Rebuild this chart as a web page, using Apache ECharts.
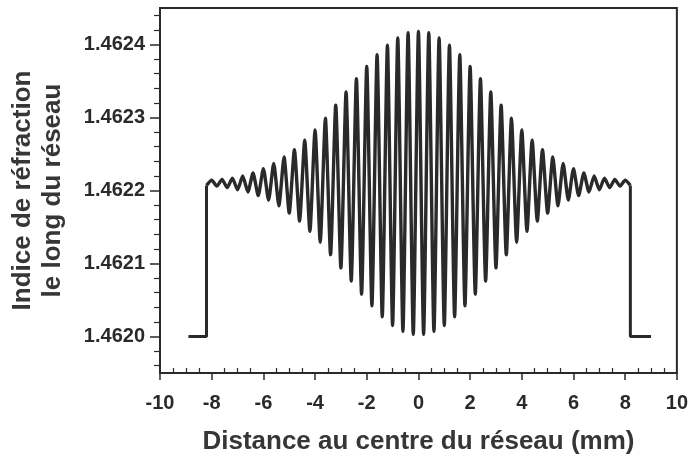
<!DOCTYPE html>
<html>
<head>
<meta charset="utf-8">
<script src="https://cdn.jsdelivr.net/npm/echarts@6/dist/echarts.min.js"></script>
<style>
  html, body { margin: 0; padding: 0; background: #fff; }
  #chart { width: 691px; height: 460px; }
</style>
</head>
<body>
<div id="chart"></div>
<script>
// Refractive index profile along an apodised fibre Bragg grating.

// Flat (unexposed) fibre core on each side of the grating
const leftEdgeX = [-8.9, -8.2, -8.2];
const leftEdgeN = [1.4620, 1.4620, 1.462207];
const rightEdgeX = [8.2, 8.2, 9.0];
const rightEdgeN = [1.462207, 1.4620, 1.4620];

// Grating fringes: alternating minima and maxima of the index (mm, index)
const fringeX = [
  -8.2, -8.0, -7.8, -7.6, -7.4, -7.2, -7.0, -6.8, -6.6, -6.4,
  -6.2, -6.0, -5.8, -5.6, -5.4, -5.2, -5.0, -4.8, -4.6, -4.4,
  -4.2, -4.0, -3.8, -3.6, -3.4, -3.2, -3.0, -2.8, -2.6, -2.4,
  -2.2, -2.0, -1.8, -1.6, -1.4, -1.2, -1.0, -0.8, -0.6, -0.4,
  -0.2, 0.0, 0.2, 0.4, 0.6, 0.8, 1.0, 1.2, 1.4, 1.6,
  1.8, 2.0, 2.2, 2.4, 2.6, 2.8, 3.0, 3.2, 3.4, 3.6,
  3.8, 4.0, 4.2, 4.4, 4.6, 4.8, 5.0, 5.2, 5.4, 5.6,
  5.8, 6.0, 6.2, 6.4, 6.6, 6.8, 7.0, 7.2, 7.4, 7.6,
  7.8, 8.0, 8.2
];
const fringeN = [
  1.462207, 1.462214, 1.462206, 1.462215, 1.462204, 1.462217, 1.462201, 1.462220, 1.462198, 1.462224,
  1.462193, 1.462230, 1.462187, 1.462237, 1.462179, 1.462246, 1.462169, 1.462256, 1.462158, 1.462269,
  1.462144, 1.462283, 1.462129, 1.462299, 1.462112, 1.462317, 1.462094, 1.462335, 1.462076, 1.462353,
  1.462058, 1.462370, 1.462042, 1.462386, 1.462027, 1.462399, 1.462015, 1.462409, 1.462007, 1.462416,
  1.462003, 1.462418, 1.462003, 1.462416, 1.462007, 1.462409, 1.462015, 1.462399, 1.462027, 1.462386,
  1.462042, 1.462370, 1.462058, 1.462353, 1.462076, 1.462335, 1.462094, 1.462317, 1.462112, 1.462299,
  1.462129, 1.462283, 1.462144, 1.462269, 1.462158, 1.462256, 1.462169, 1.462246, 1.462179, 1.462237,
  1.462187, 1.462230, 1.462193, 1.462224, 1.462198, 1.462220, 1.462201, 1.462217, 1.462204, 1.462215,
  1.462206, 1.462214, 1.462207
];

// Axis ticks
const yLabelValues = [1.4620, 1.4621, 1.4622, 1.4623, 1.4624];
const yMinorValues = [
  1.46196, 1.46198, 1.46202, 1.46204, 1.46206, 1.46208,
  1.46212, 1.46214, 1.46216, 1.46218, 1.46222, 1.46224, 1.46226, 1.46228,
  1.46232, 1.46234, 1.46236, 1.46238, 1.46242, 1.46244
];
const yMin = 1.46195, yMax = 1.46245;

const zip = (xs, ys) => xs.map((x, i) => [x, ys[i]]);

const ink = '#2a2a2a';
const labelFont = { fontFamily: 'Liberation Sans, Arial, sans-serif', fontWeight: 'bold', fontSize: 20, color: ink };
const titleFont = { fontFamily: 'Liberation Sans, Arial, sans-serif', fontWeight: 'bold', fontSize: 26, color: '#363636' };

const chart = echarts.init(document.getElementById('chart'), null, { renderer: 'canvas' });
chart.setOption({
  animation: false,
  backgroundColor: '#ffffff',
  grid: { left: 158, right: 12, top: 8, bottom: 87, show: true, borderColor: ink, borderWidth: 2, containLabel: false },
  xAxis: [{
    // major ticks point down, with the labels
    type: 'value', min: -10, max: 10, interval: 2, position: 'bottom',
    name: 'Distance au centre du réseau (mm)',
    nameLocation: 'middle', nameGap: 56,
    nameTextStyle: titleFont,
    axisLine: { show: true, onZero: false, lineStyle: { color: ink, width: 2 } },
    axisTick: { show: true, inside: false, length: 7, lineStyle: { color: ink, width: 1.5 } },
    axisLabel: Object.assign({ margin: 20, formatter: v => String(v) }, labelFont),
    splitLine: { show: false }
  }, {
    // minor ticks every 0.5 mm, pointing into the plot
    type: 'value', min: -10, max: 10, interval: 2, position: 'bottom',
    axisLine: { show: false, onZero: false },
    axisTick: { show: false, inside: true },
    minorTick: { show: true, splitNumber: 4, length: 5, lineStyle: { color: ink, width: 1.2 } },
    axisLabel: { show: false },
    splitLine: { show: false }
  }],
  yAxis: [{
    type: 'value', min: yMin, max: yMax,
    name: 'Indice de réfraction\nle long du réseau',
    nameLocation: 'middle', nameGap: 92, nameRotate: 90,
    nameTextStyle: Object.assign({ lineHeight: 30 }, titleFont),
    axisLine: { show: true, onZero: false, lineStyle: { color: ink, width: 2 } },
    axisTick: { show: true, inside: false, length: 10, customValues: yLabelValues, lineStyle: { color: ink, width: 1.5 } },
    axisLabel: Object.assign({ margin: 15, customValues: yLabelValues, formatter: v => v.toFixed(4) }, labelFont),
    splitLine: { show: false }
  }, {
    type: 'value', min: yMin, max: yMax, position: 'left',
    axisLine: { show: false, onZero: false },
    axisTick: { show: true, inside: false, length: 6, customValues: yMinorValues, lineStyle: { color: ink, width: 1.2 } },
    axisLabel: { show: false },
    splitLine: { show: false }
  }],
  series: [
    { type: 'line', yAxisIndex: 0, data: zip(leftEdgeX, leftEdgeN), showSymbol: false, lineStyle: { color: ink, width: 3 } },
    { type: 'line', yAxisIndex: 0, data: zip(fringeX, fringeN), showSymbol: false, smooth: 0.2, lineStyle: { color: ink, width: 3.4 } },
    { type: 'line', yAxisIndex: 0, data: zip(rightEdgeX, rightEdgeN), showSymbol: false, lineStyle: { color: ink, width: 3 } }
  ]
});
</script>
</body>
</html>
